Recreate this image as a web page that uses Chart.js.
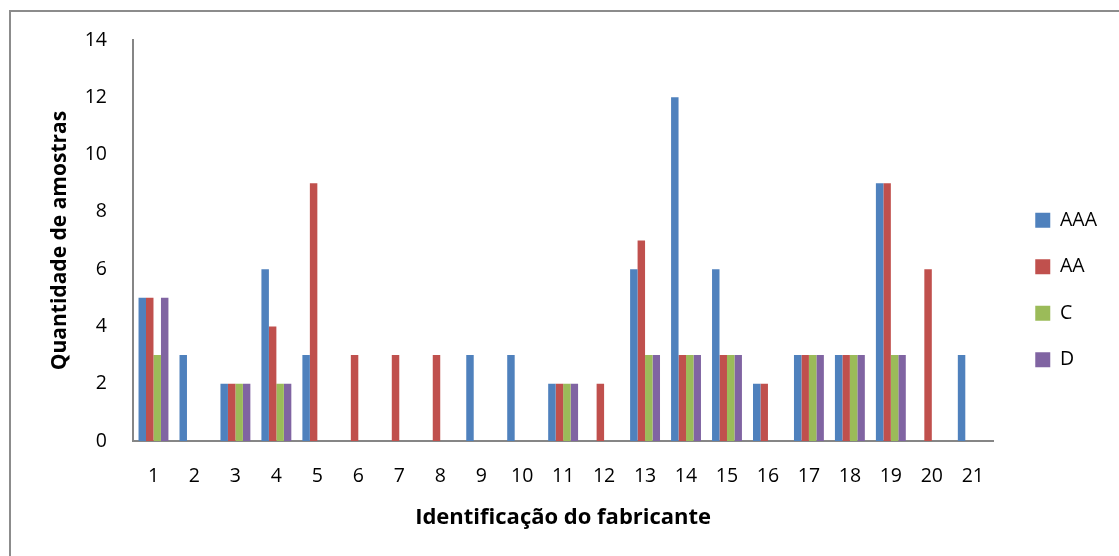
<!DOCTYPE html>
<html>
<head>
<meta charset="utf-8">
<script src="https://cdn.jsdelivr.net/npm/chart.js@4/dist/chart.umd.min.js"></script>
<style>
  html, body { margin: 0; padding: 0; background: #fff; }
  #frame {
    position: absolute; left: 9px; top: 10px; width: 1200px; height: 600px;
    border-top: 2px solid #8c8c8c; border-left: 2px solid #8c8c8c;
  }
  #wrap { position: absolute; left: 0; top: 0; width: 1119px; height: 556px; }
</style>
</head>
<body>
<div id="frame"></div>
<div id="wrap"><canvas id="chart"></canvas></div>
<script>
// categories: manufacturer ids
const fabricantes = ['1','2','3','4','5','6','7','8','9','10','11','12','13','14','15','16','17','18','19','20','21'];

// sample counts per class
const serieAAA = [5, 3, 2, 6, 3, 0, 0, 0, 3, 3, 2, 0, 6, 12, 6, 2, 3, 3, 9, 0, 3];
const serieAA  = [5, 0, 2, 4, 9, 3, 3, 3, 0, 0, 2, 2, 7, 3, 3, 2, 3, 3, 9, 6, 0];
const serieC   = [3, 0, 2, 2, 0, 0, 0, 0, 0, 0, 2, 0, 3, 3, 3, 0, 3, 3, 3, 0, 0];
const serieD   = [5, 0, 2, 2, 0, 0, 0, 0, 0, 0, 2, 0, 3, 3, 3, 0, 3, 3, 3, 0, 0];

const yMin = 0;
const yMax = 14;
const yStep = 2;

const FONT = '"Open Sans", "Noto Sans", sans-serif';
const axisGray = '#868686';

const ctx = document.getElementById('chart').getContext('2d');

function bar(label, data, color) {
  return {
    label,
    data,
    backgroundColor: color,
    borderWidth: 0,
    categoryPercentage: 0.73,
    barPercentage: 1.0
  };
}

new Chart(ctx, {
  type: 'bar',
  data: {
    labels: fabricantes,
    datasets: [
      bar('AAA', serieAAA, '#4F81BD'),
      bar('AA', serieAA, '#C0504D'),
      bar('C', serieC, '#9BBB59'),
      bar('D', serieD, '#8064A2')
    ]
  },
  options: {
    responsive: true,
    maintainAspectRatio: false,
    animation: false,
    layout: { padding: { left: 30, top: 40, right: 12, bottom: 16 } },
    scales: {
      x: {
        grid: { display: false, drawTicks: false },
        border: { display: true, color: axisGray, width: 2 },
        ticks: { color: '#000', font: { family: FONT, size: 19.5 }, padding: 24 },
        title: {
          display: true,
          text: 'Identificação do fabricante',
          color: '#000',
          font: { family: FONT, size: 22, weight: 'bold' },
          padding: { top: 0, bottom: 9 }
        },
        afterFit: (scale) => { scale.height = 99; }
      },
      y: {
        min: yMin,
        max: yMax,
        grid: { display: false, drawTicks: false },
        border: { display: true, color: axisGray, width: 2 },
        ticks: { stepSize: yStep, color: '#000', font: { family: FONT, size: 19.5 }, padding: 26 },
        title: {
          display: true,
          text: 'Quantidade de amostras',
          color: '#000',
          font: { family: FONT, size: 21, weight: 'bold' },
          padding: { top: 17, bottom: 0 }
        },
        afterFit: (scale) => { scale.width = 103; }
      },
      // empty spacer between plot and legend
      gap: {
        position: 'right',
        display: true,
        grid: { display: false, drawTicks: false },
        border: { display: false },
        ticks: { display: false },
        afterFit: (scale) => { scale.width = 15; }
      }
    },
    plugins: {
      legend: {
        position: 'right',
        labels: {
          boxWidth: 15,
          boxHeight: 15,
          padding: 27,
          color: '#000',
          font: { family: FONT, size: 19.5 }
        }
      },
      tooltip: { enabled: false }
    }
  }
});
</script>
</body>
</html>
